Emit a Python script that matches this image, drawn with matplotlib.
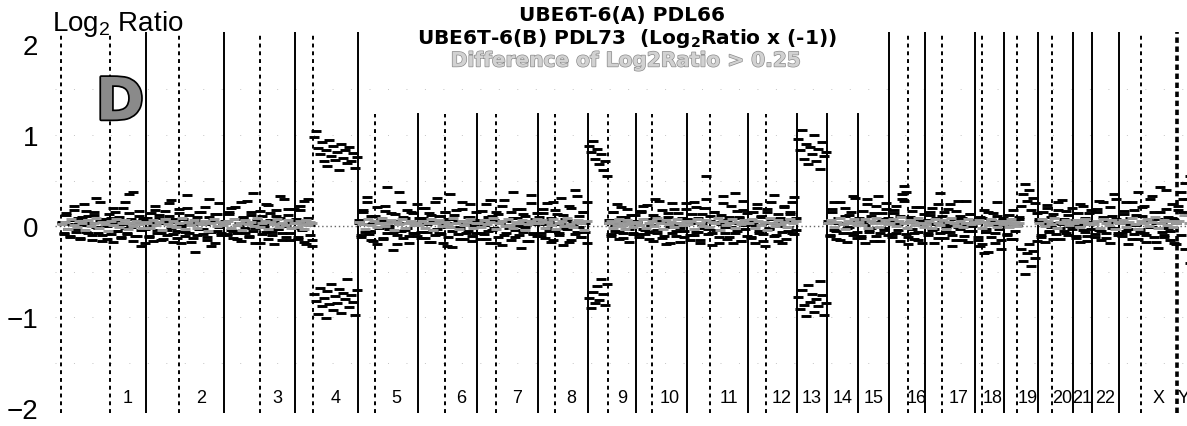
import numpy as np
import matplotlib.pyplot as plt
import matplotlib.patheffects as pe

plt.rcParams['font.family'] = ['Liberation Sans', 'DejaVu Sans']
plt.rcParams['mathtext.fontset'] = 'custom'
plt.rcParams['mathtext.rm'] = 'Liberation Sans'
plt.rcParams['mathtext.bf'] = 'DejaVu Sans:bold'

chrom_names = ['1', '2', '3', '4', '5', '6', '7', '8', '9', '10', '11', '12',
               '13', '14', '15', '16', '17', '18', '19', '20', '21', '22', 'X', 'Y']
# clones per chromosome (order along the genome) and clones before the centromere
chrom_size = [85, 78, 71, 63, 60, 59, 61, 50, 48, 51, 61, 49,
              30, 31, 31, 36, 50, 29, 34, 35, 19, 27, 58, 14]
p_arm = [49, 33, 36, 18, 17, 27, 19, 17, 20, 16, 23, 18,
         0, 0, 0, 19, 17, 7, 13, 14, 0, 0, 22, 0]

# log2 ratio x100, ordered along each chromosome
ratio_a = [
    [4, -8, 12, 2, -12, 7, 18, -3, 9, -14, 1, 24, -6, 11, 3, -10, 15, 31, -2, 6, -16, 8, 0, 13, -9,
     20, 5, -5, 10, -13, 2, 27, -7, 14, -1, 38, -11, 6, 17, -4, 9, -18],
    [6, -11, 14, 1, 22, -7, 9, -15, 3, 17, -4, 11, 29, -9, 5, -13, 19, 0, 8, -6, 34, 12, -17, 2, 7,
     -10, 16, 4, -3, 21, -12, 10, -22, 6, 13, -5, 25, -8, 3],
    [3, -9, 13, 20, -5, 8, -14, 1, 26, 10, -7, 4, -12, 16, 36, -2, 7, -18, 11, 2, -6, 23, 14, -10, 5,
     18, -3, 9, -15, 30, 0, 12, -8, 6, 19],
    [5, -12, 18, -4, 28, -20, 9, 1, -15, 98, 104, 86, 79, 92, 71, 84, 66, 95, 77, 88, 73, 81, 62, 90,
     75, 83, 69, 87, 72, 80, 64, 76],
    [7, -10, 15, 2, 32, -5, 11, -16, 4, 21, -2, 9, -13, 17, 43, 0, 6, -8, 13, -20, 3, 26, 10, -4, 18,
     -11, 5, 14, -7, 24],
    [2, -13, 9, 20, -6, 14, -17, 5, 27, -3, 11, -9, 1, 16, -22, 8, 35, -5, 12, -1, 6, -14, 19, 3, -8,
     10, 24, -11, 7, 15],
    [5, -8, 17, 1, -14, 10, 29, -4, 7, -18, 13, 3, 22, -10, 6, -2, 15, 38, -12, 9, 0, 19, -6, 11, -16,
     4, 25, -9, 8, 14],
    [6, -11, 14, 2, 25, -5, 9, -15, 18, 3, -8, 31, 12, -2, 7, -17, 20, 0, 40, -6, 11, -12, 16, 4, 27],
    [88, 81, 93, 74, 85, 68, 79, 62, 71, 55, 4, -9, 15, 1, 24, -6, 10, -13, 6, 19, -3, 12, -8, 2],
    [4, -9, 15, 22, -4, 8, -14, 1, 12, 30, -7, 6, 18, -11, 3, 10, -18, 25, 2, -5, 14, -2, 9, -12, 19],
    [3, -10, 13, 26, -6, 9, -15, 2, 20, 55, -3, 11, -8, 16, 5, -19, 12, 33, -1, 7, -12, 22, 4, -7, 17,
     10, -16, 28, 1, 14],
    [5, -12, 16, 1, 24, -7, 10, -16, 3, 19, -3, 8, 34, -10, 13, 0, -19, 21, 6, -5, 15, 27, -9, 9],
    [96, 83, 105, 74, 90, 68, 87, 79, 100, 72, 85, 63, 92, 77, 81],
    [4, -10, 15, 27, -5, 9, -15, 2, 20, -2, 12, -8, 33, 7, -13],
    [7, -11, 17, 1, 30, -4, 11, -16, 22, 5, -7, 14, -2, 25, 9],
    [6, -9, 14, 22, -4, 11, 30, 44, 38, -12, 5, 17, -7, 9, -15, 21, 2, 13],
    [3, -8, 12, 20, -3, 9, -13, 36, 5, 15, -6, 1, 24, -10, 8, 17, -1, 11, -15, 4, 28, -5, 13, 0, 7],
    [5, -12, 10, -20, 18, -3, -28, 7, 14, -8, 26, 1, -15, 9],
    [4, -9, 12, 2, -14, 8, 1, 10, 22, 35, 46, 28, 40, 18, 31, 25, 14],
    [6, -10, 15, 2, 23, -5, 10, -14, 3, 18, -2, 29, 8, -8, 12, 0, 20],
    [5, -11, 14, 24, -4, 9, -16, 2, 18],
    [3, -9, 16, 28, -5, 10, -13, 6, 21, -2, 35, 8, -7],
    [4, -8, 13, 26, -3, 9, -14, 18, 1, 38, -6, 11, 22, -10, 6, 30, -1, 15, -17, 8, 43, 3, -12, 19, 10,
     -5, 24, 7, -20],
    [22, 38, 15, 47, 30, 55],
]

# second culture, raw log2 ratio x100 (plotted multiplied by -1)
ratio_b = [
    [-5, 9, -14, 3, 11, -7, -22, 6, -2, 13, -10, 4, -17, 8, -4, 15, -12, 1, 7, -26, 10, -6, 14, -1, -9,
     17, -15, 5, -3, 12, -20, 2, 9, -35, -8, 16, -4, 11, -11, 22, -7, 3],
    [-9, 12, -3, 16, -18, 4, -12, 8, 14, -6, 10, -25, 2, 17, -8, 5, -14, 19, -1, 11, -20, 7, -5, 13, 28,
     -10, 3, -16, 9, -2, 15, -30, 6, -7, 18, -13, 1, 10, -4],
    [-6, 10, -15, 4, 13, -21, 7, -3, 16, -9, 2, -28, 11, -12, 5, 18, -4, -17, 9, 1, -24, 14, -7, 6, 20,
     -11, 3, -33, 8, -1, 12, -19, 15, -5, 2],
    [-8, 14, -22, 3, 17, -5, -30, 10, 22, 74, 82, 96, 68, 88, 79, 101, 71, 85, 63, 92, 77, 84, 69, 95,
     73, 80, 58, 89, 76, 83, 97, 70],
    [-4, 12, -18, 6, -27, 9, 15, -3, -11, 20, 1, -7, 14, -22, 8, 3, -14, 26, -6, 10, -38, 5, 13, -9, 2,
     18, -16, 7, -1, 11],
    [-9, 6, -20, 13, -2, 17, -12, 4, 10, -31, 7, -5, 19, -15, 1, 12, -8, 23, -3, -18, 9, 2, -26, 14, -6,
     5, -10, 16, -1, 8],
    [-7, 14, -3, 9, -24, 5, 18, -11, 2, -16, 12, -5, 21, -29, 7, -1, 15, -9, 4, -19, 10, 24, -13, 1, -6,
     16, -34, 8, -2, 11],
    [-10, 7, -19, 13, 2, -6, 17, -27, 5, -13, 10, -2, 21, -8, 3, -22, 15, -4, 9, -33, 1, 12, -15, 6, 19],
    [79, 90, 72, 84, 66, 81, 58, 74, 87, 63, -7, 11, -16, 5, -2, 14, -21, 8, -10, 3, 17, -5, 9, -12],
    [-6, 12, -17, 3, 9, -23, 6, -1, 16, -10, 4, -28, 13, -5, 20, -14, 1, 8, -19, 11, -3, 17, -8, 5, -25],
    [-8, 15, -4, 10, -21, 6, 18, -13, 2, -30, 9, -6, 21, -16, 4, 12, -2, -25, 7, 14, -10, 1, 19, -36, 5,
     -9, 16, -18, 3, 11],
    [-7, 13, -2, 18, -20, 5, -11, 9, 22, -15, 2, -27, 11, -4, 16, -9, 6, -22, 14, 1, -13, 8, -32, 4],
    [78, 91, 70, 86, 99, 65, 83, 74, 94, 80, 88, 60, 76, 97, 84],
    [-6, 11, -19, 4, 14, -3, -26, 8, -11, 17, 1, -15, 10, -31, 6],
    [-9, 13, -5, 18, -24, 6, 2, -14, 11, -33, 16, -8, 4, -19, 10],
    [-5, 12, -18, 7, -2, 16, -35, -28, 9, 20, -10, 3, 14, -21, 6, -7, 18, -3],
    [-7, 10, -15, 4, 18, -2, -24, 8, -11, 13, 1, -19, 6, 22, -4, 15, -28, 3, -9, 11, -1, 17, -13, 5, -6],
    [-4, 15, 22, -9, 30, 6, -16, 12, -2, 19, -11, 3, 25, -7],
    [-6, 10, -3, 14, -18, 5, -2, -8, 25, 38, 52, 30, 20, 44, 27, 35, 16],
    [-8, 12, -4, 17, -20, 6, 1, -13, 9, -26, 14, -2, 5, -17, 10, -6, 3],
    [-7, 13, -2, 17, -22, 6, 11, -14, 3],
    [-5, 12, -19, 4, 15, -26, 8, -3, 18, -11, 2, -30, 10],
    [-6, 11, -17, 5, 20, -2, -27, 9, -12, 14, 3, -21, 7, 17, -8, 1, -33, 12, -4, 24, -15, 6, 10, -40, 2,
     15, -9, 19, -3],
    [-18, 10, -30, 25, -12, 40],
]

# grey marks (None = no mark at that place)
ratio_gray = [
    [2, 5, -3, 8, 1, -1, 6, 3, -4, 7, 0, 4, 9, -2, 5, 2, -5, 6, 1, 8, -1, 3, 7, -3, 4, 0, 6, 2, -2, 5],
    [4, -2, 7, 1, 5, -4, 8, 2, 0, 6, -1, 3, 9, -3, 5, 1, 7, -2, 4, 2, 6, -5, 3, 8, 0, 5, 1],
    [3, 6, -2, 8, 1, 4, -4, 7, 2, 5, 0, 9, -1, 3, 6, -3, 5, 2, 8, -1, 4, 1, 7, -2, 3],
    [4, -1, 6, 2, -3, 7, 1, 5, 3] + [None] * 23,
    [5, 2, -3, 8, 1, 6, -1, 4, 9, 0, 3, 7, -4, 5, 2, 8, -2, 4, 6, 1, 3],
    [1, 6, -2, 4, 8, -4, 3, 7, 0, 5, 2, -1, 9, 4, -3, 6, 1, 5, 8, -2, 3],
    [4, -1, 7, 2, 5, 9, -3, 3, 6, 0, 8, 1, -2, 5, 4, 7, -4, 2, 6, 3, 8],
    [3, 7, -2, 5, 1, 8, -3, 4, 6, 0, 9, 2, -1, 5, 7, 3, -4, 6],
    [None] * 10 + [3, 6, -2, 5, 1, 8, 0, 4, -3, 7, 2, 5, -1, 3],
    [5, 1, 8, -2, 4, 6, 0, 9, 3, -3, 7, 2, 5, -1, 8, 4, 1, 6],
    [2, 6, -3, 8, 4, 0, 7, -1, 5, 3, 9, -4, 6, 1, 4, 8, -2, 5, 2, 7, 3],
    [4, 8, -2, 6, 1, 5, -4, 9, 3, 0, 7, 2, 5, -1, 8, 3, 6],
    [],
    [3, 7, -1, 5, 9, 2, -3, 6, 4, 8, 1],
    [5, 1, 8, -2, 6, 3, 9, -1, 4, 7, 2],
    [4, 8, 0, 6, 10, 3, -2, 7, 5, 1, 9, 4, -1],
    [2, 6, -2, 8, 4, 1, 7, -3, 5, 9, 3, 0, 6, -1, 4, 8, 2, 5],
    [3, 7, -2, 5, 1, 8, 4, -1, 6, 2],
    [3, 6, -1, 8, 2, 5, 0, 4] + [None] * 9,
    [4, 8, 0, 6, 2, 9, -2, 5, 3, 7, 1, 5],
    [3, 7, -1, 5, 8, 2, 4],
    [2, 6, -2, 8, 4, 1, 7, -3, 5],
    [3, 7, -1, 5, 9, 2, -3, 6, 4, 8, 0, 5, 10, -2, 3, 7, 1, 6, -1, 4],
    [6, 12, 3],
]

starts = np.concatenate([[0], np.cumsum(chrom_size)[:-1]])


def spread(series, sign=1):
    xs, ys = [], []
    for k, vals in enumerate(series):
        n = len(vals)
        for i, v in enumerate(vals):
            if v is None:
                continue
            xs.append(starts[k] + (i + 0.5) * chrom_size[k] / n)
            ys.append(sign * v / 100)
    return np.array(xs), np.array(ys)


W, H = 1187, 427
fig = plt.figure(figsize=(W / 100, H / 100), dpi=100)
ax = fig.add_axes([55 / W, 13 / H, 1132 / W, 381 / H])
ax.set_xlim(-6, 1126)
ax.set_ylim(-2.05, 2.13)
for s in ax.spines.values():
    s.set_visible(False)

# guide lines
ax.axhline(0, color='#666666', ls=(0, (1, 2)), lw=1, zorder=0)
for yy in [-1.5, -1, -0.5, 0.5, 1, 1.5]:
    ax.axhline(yy, color='#c4c4c4', ls=(0, (1, 18)), lw=0.7, zorder=0)


def vline(x, **kw):
    # lines below the title block stop short of the top
    top = 0.785 if 310 < x < 800 else 1.0
    ax.axvline(x, ymax=top, color='black', zorder=1, **kw)


vline(0, ls=(0, (2, 2)), lw=1.4)
for k in range(len(chrom_names)):
    end = starts[k] + chrom_size[k]
    if chrom_names[k] == 'X':
        vline(end, ls=(0, (1.5, 1)), lw=2.6)
    elif chrom_names[k] != 'Y':
        vline(end, lw=1.4)
    if p_arm[k] > 0:
        vline(starts[k] + p_arm[k], ls=(0, (2, 2)), lw=1.4)
    ax.text(starts[k] + (p_arm[k] + chrom_size[k]) / 2, -1.88, chrom_names[k],
            ha='center', va='center', fontsize=13)

xa, ya = spread(ratio_a)
xb, yb = spread(ratio_b, sign=-1)
xg, yg = spread(ratio_gray)
ax.plot(xa, ya, ls='none', marker='_', ms=6.5, mew=2.1, color='black', zorder=2)
ax.plot(xb, yb, ls='none', marker='_', ms=6.5, mew=2.1, color='black', zorder=2)
ax.plot(xg, yg, ls='none', marker='_', ms=6.5, mew=2.1, color='#9a9a9a', zorder=3)

ax.set_xticks([])
ax.set_yticks([-2, -1, 0, 1, 2])
ax.set_yticklabels(['\u22122', '\u22121', '0', '1', '2'], fontsize=20)
ax.tick_params(axis='y', length=0, pad=12)

fig.text(52 / W, 1 - 24 / H, r'Log$_2$ Ratio', fontsize=20, ha='left', va='center')
fig.text(622 / W, 1 - 16 / H, 'UBE6T-6(A) PDL66', fontsize=14.5, fontweight='bold',
         family='DejaVu Sans', ha='center', va='center')
fig.text(627 / W, 1 - 39 / H, r'UBE6T-6(B) PDL73  (Log$\mathbf{_2}$Ratio x (-1))', fontsize=14.5,
         fontweight='bold', family='DejaVu Sans', ha='center', va='center')
fig.text(626 / W, 1 - 62 / H, 'Difference of Log2Ratio > 0.25', fontsize=14.5, fontweight='bold',
         family='DejaVu Sans', color='#d2d2d2', ha='center', va='center',
         path_effects=[pe.withStroke(linewidth=1.0, foreground='#8c8c8c')])
fig.text(120 / W, 1 - 104 / H, 'D', fontsize=42, fontweight='bold', family='DejaVu Sans',
         color='#8a8a8a', ha='center', va='center',
         path_effects=[pe.withStroke(linewidth=2.5, foreground='black')])

fig.savefig('out.png', dpi=100)
